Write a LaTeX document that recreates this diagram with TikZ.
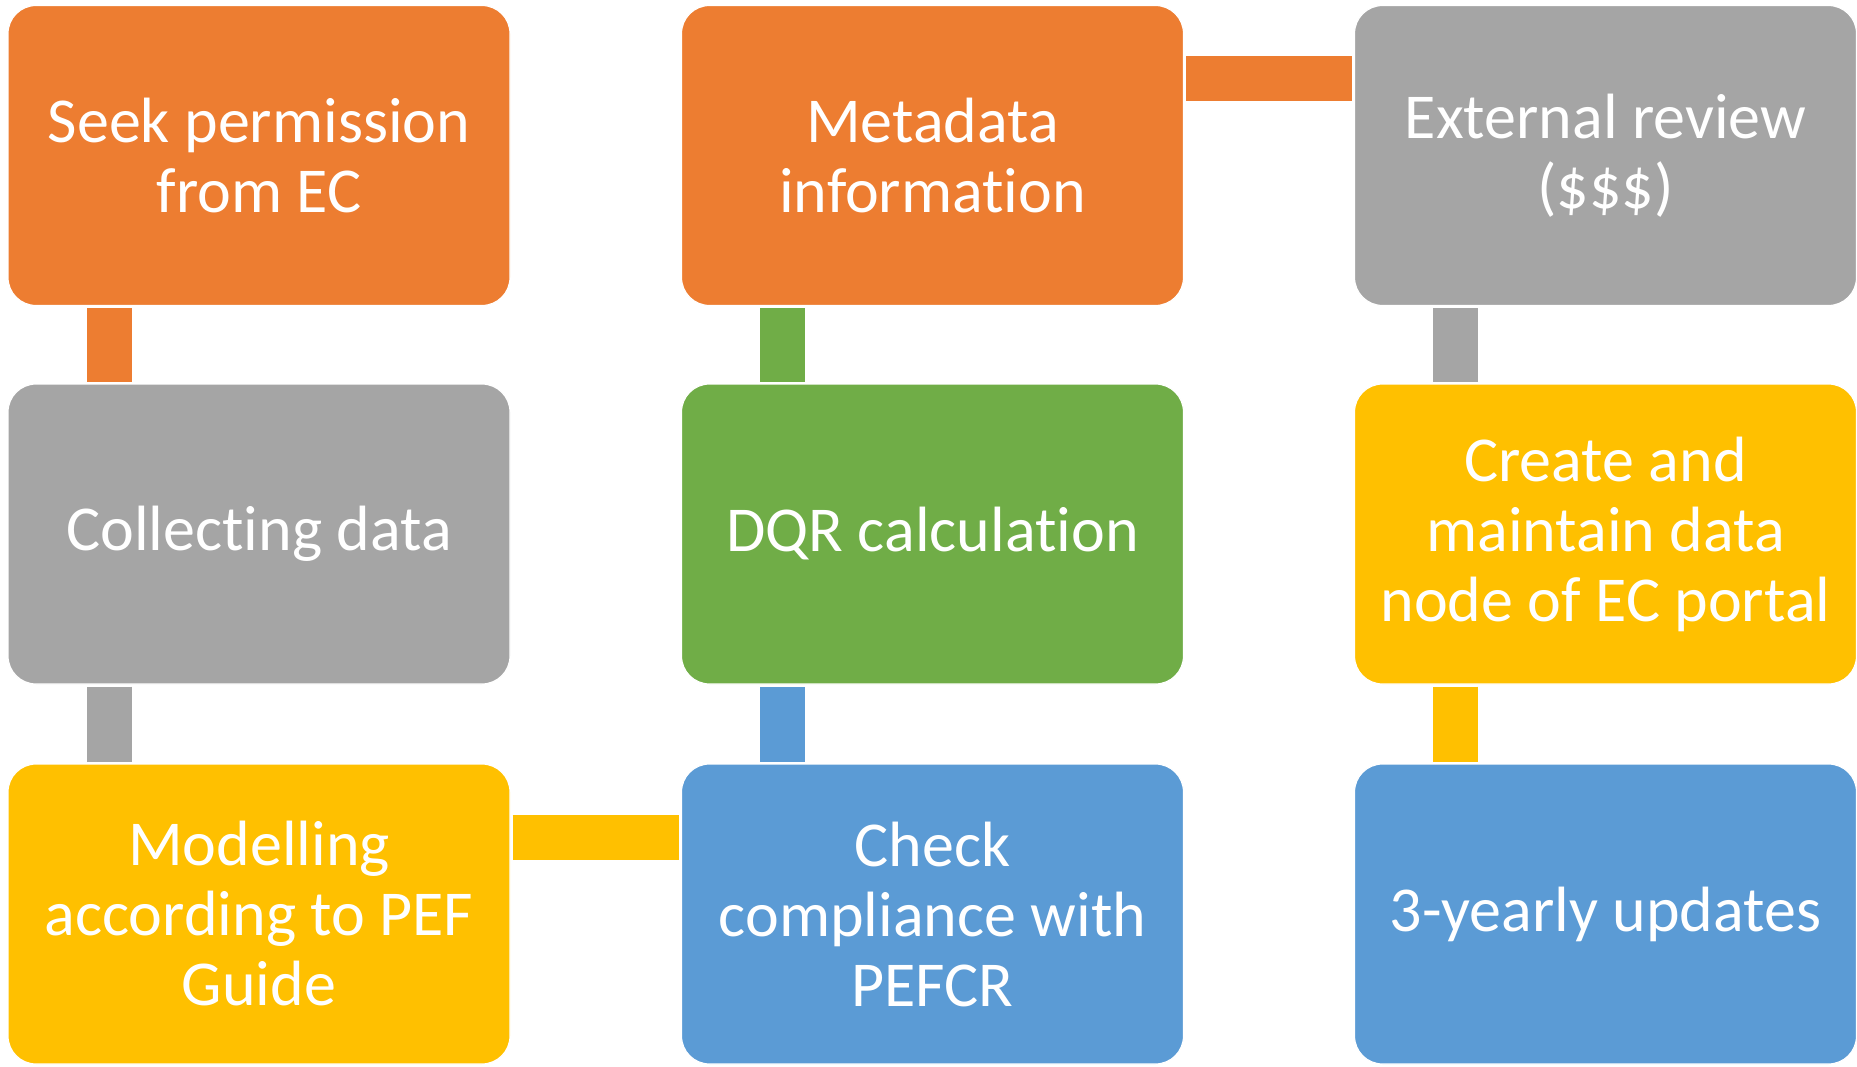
\documentclass[tikz,border=0pt]{standalone}
\usepackage{fontspec}
\setmainfont{Carlito}[Ligatures={NoCommon}]
\usetikzlibrary{calc}
\definecolor{cOrange}{HTML}{ED7D31}
\definecolor{cGray}{HTML}{A5A5A5}
\definecolor{cGreen}{HTML}{70AD47}
\definecolor{cBlue}{HTML}{5B9BD5}
\definecolor{cGold}{HTML}{FFC000}
\begin{document}
\begin{tikzpicture}[x=1pt,y=-1pt,
  tile/.style={rectangle, rounded corners=28pt, draw=white, line width=1.2pt,
    minimum width=502pt, minimum height=300pt, inner sep=0pt, outer sep=0pt,
    text=white, align=center, font=\fontsize{64}{70}\selectfont},
  connbar/.style={draw=#1, line width=45pt, line cap=butt}]
\useasboundingbox[fill=white] (0,0) rectangle (1857,1067);
% row 1
\node[tile, fill=cOrange] (seek) at (259,155.5) {Seek permission\\from EC};
\node[tile, fill=cOrange] (meta) at (932.5,155.5) {Metadata\\information};
\node[tile, fill=cGray] (ext) at (1605.5,155.5) {External review\\(\$\$\$)};
% row 2
\node[tile, fill=cGray] (coll) at (259,534) {Collecting data};
\node[tile, fill=cGreen] (dqr) at (932.5,534) {DQR calculation};
\node[tile, fill=cGold] (create) at (1605.5,534) {Create and\\maintain data\\node of EC portal};
% row 3
\node[tile, fill=cGold] (model) at (259,914) {Modelling\\according to PEF\\Guide};
\node[tile, fill=cBlue] (check) at (932.5,914) {Check\\compliance with\\PEFCR};
\node[tile, fill=cBlue] (upd) at (1605.5,914) {3-yearly updates};
% connectors
\draw[connbar=cOrange] ($(seek.south west)+(101,2.5)$) -- ($(coll.north west)+(101,-2.5)$);
\draw[connbar=cGray] ($(coll.south west)+(101,2.5)$) -- ($(model.north west)+(101,-2.5)$);
\draw[connbar=cGold] ($(model.north east)+(2.5,73)$) -- ($(check.north west)+(-2.5,73)$);
\draw[connbar=cBlue] ($(check.north west)+(101,-2.5)$) -- ($(dqr.south west)+(101,2.5)$);
\draw[connbar=cGreen] ($(dqr.north west)+(101,-2.5)$) -- ($(meta.south west)+(101,2.5)$);
\draw[connbar=cOrange] ($(meta.north east)+(2.5,73)$) -- ($(ext.north west)+(-2.5,73)$);
\draw[connbar=cGray] ($(ext.south west)+(101,2.5)$) -- ($(create.north west)+(101,-2.5)$);
\draw[connbar=cGold] ($(create.south west)+(101,2.5)$) -- ($(upd.north west)+(101,-2.5)$);
\end{tikzpicture}
\end{document}
